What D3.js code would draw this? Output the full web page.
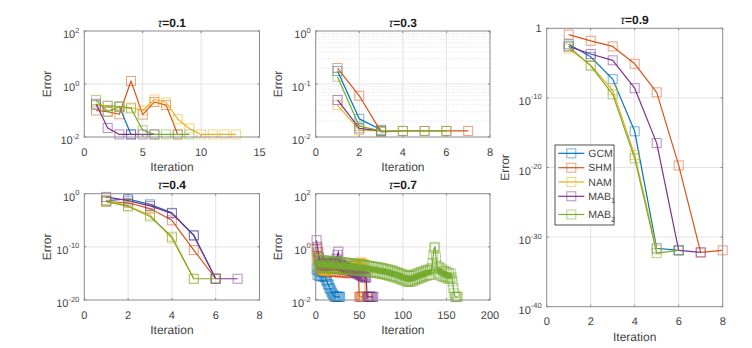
<!DOCTYPE html>
<html><head><meta charset="utf-8">
<script src="https://cdn.jsdelivr.net/npm/d3@7"></script>
<style>
body{margin:0;background:#fff}
svg{display:block}
text{font-family:"Liberation Sans",Arial,Helvetica,sans-serif;fill:#444;font-weight:normal;text-rendering:geometricPrecision}
</style>
</head><body>
<svg id="chart" width="752" height="348"></svg>
<script>
// ---------------- data ----------------
const seriesNames = ["GCM", "SHM", "NAM", "MAB1", "MAB2"];

// tau = 0.1 (error values)
const tau01_GCM  = [0.16, 0.15, 0.14, 0.0125];
const tau01_SHM  = [0.10, 0.09, 0.072, 1.3, 0.07, 0.21, 0.16, 0.0125];
const tau01_NAM  = [0.16, 0.15, 0.14, 0.13, 0.10, 0.26, 0.20, 0.047, 0.021, 0.0125, 0.0125, 0.0125, 0.0125];
const tau01_MAB1 = [0.18, 0.022, 0.0125, 0.0125, 0.0125, 0.0125];
const tau01_MAB2 = [0.25, 0.09, 0.14, 0.12, 0.018, 0.0125, 0.0125, 0.0125, 0.0125];

// tau = 0.3
const tau03_GCM  = [0.176, 0.022, 0.0137];
const tau03_SHM  = [0.20, 0.06, 0.0125, 0.013, 0.013, 0.013, 0.013];
const tau03_NAM  = [0.04, 0.0135, 0.013];
const tau03_MAB1 = [0.05, 0.0145, 0.013];
const tau03_MAB2 = [0.137, 0.016, 0.013, 0.013, 0.013, 0.013];

// tau = 0.4
const tau04_GCM  = [5e-2, 1e-1, 1e-2, 2.5e-4, 1.6e-8, 1e-16];
const tau04_SHM  = [3.2e-2, 2e-2, 1.6e-3, 1e-5, 2.5e-11, 1e-16];
const tau04_NAM  = [6.3e-2, 5e-3, 1e-4, 4e-9, 1e-16];
const tau04_MAB1 = [0.25, 5e-2, 5e-3, 2e-4, 1.26e-8, 1e-16, 1e-16];
const tau04_MAB2 = [3.2e-2, 4e-3, 5e-5, 8e-9, 1e-16, 1e-16];

// tau = 0.7 (log10 of error)
const tau07_GCM_log10 = [-0.85,-1.05,-0.9,-1.1,-0.95,-1.1,-0.95,-1.12,-1.0,-1.12,
 -1.15,-1.25,-1.3,-1.4,-1.45,-1.55,-1.6,-1.68,-1.75,-1.8,
 -1.85,-1.88,-1.88,-1.88,-1.88,-1.88,-1.88,-1.88];
const tau07_SHM_log10 = [-0.1,-0.35,-0.5,-0.65,-0.7,-0.85,-0.75,-0.9,-0.78,-0.92,
 -0.8,-0.9,-0.78,-0.92,-0.8,-0.95,-0.82,-0.93,-0.8,-0.95,
 -0.82,-0.95,-0.8,-0.93,-0.82,-0.95,-0.83,-0.97,-0.85,-0.95,
 -0.83,-0.97,-0.85,-0.98,-0.85,-0.97,-0.87,-1.0,-0.85,-0.98,
 -0.87,-0.98,-0.8,-0.7,-0.65,-0.72,-0.8,-0.88,-0.93,-1.88,
 -1.88,-1.88,-1.88,-1.88];
const tau07_NAM_log10 = [-0.05,-0.25,-0.45,-0.6,-0.7,-0.8,-0.85,-0.9,-0.85,-0.9,
 -0.88,-0.85,-0.9,-0.86,-0.82,-0.78,-0.8,-0.75,-0.78,-0.8,
 -0.76,-0.8,-0.78,-0.75,-0.8,-0.78,-0.76,-0.8,-0.78,-0.82,
 -0.8,-0.78,-0.82,-0.8,-0.78,-0.82,-0.8,-0.84,-0.82,-0.8,
 -0.84,-0.82,-0.8,-0.84,-0.82,-0.85,-0.8,-0.75,-0.7,-0.66,
 -0.6,-0.58,-0.62,-0.65,-0.66,-0.68,-1.88,-1.88,-1.88,-1.88];
const tau07_MAB1_log10 = [0.25,0.0,-0.2,-0.4,-0.55,-0.65,-0.6,-0.7,-0.62,-0.72,
 -0.6,-0.7,-0.62,-0.68,-0.6,-0.72,-0.62,-0.7,-0.6,-0.65,
 -0.6,-0.62,-0.55,-0.45,-0.3,-0.18,-0.7,-0.65,-0.72,-0.68,
 -0.75,-0.7,-0.78,-0.75,-0.8,-0.82,-0.85,-0.83,-0.88,-0.86,
 -0.9,-0.92,-0.9,-0.95,-0.93,-0.98,-1.0,-0.98,-1.02,-1.05,
 -1.05,-1.08,-1.1,-1.1,-1.12,-1.15,-1.15,-1.15,-1.88,-1.88,
 -1.88,-1.88,-1.88,-1.88,-1.88,-1.88];
const tau07_MAB2_log10 = [-0.45,-0.75,-0.5,-0.8,-0.5,-0.78,-0.52,-0.8,-0.5,-0.78,
 -0.52,-0.78,-0.55,-0.8,-0.52,-0.8,-0.55,-0.82,-0.55,-0.8,
 -0.55,-0.82,-0.57,-0.8,-0.55,-0.82,-0.58,-0.83,-0.57,-0.82,
 -0.58,-0.85,-0.6,-0.83,-0.6,-0.85,-0.62,-0.87,-0.6,-0.86,
 -0.62,-0.88,-0.63,-0.87,-0.65,-0.9,-0.65,-0.88,-0.66,-0.9,
 -0.66,-0.9,-0.68,-0.92,-0.68,-0.9,-0.7,-0.93,-0.7,-0.92,
 -0.72,-0.95,-0.72,-0.95,-0.74,-0.97,-0.74,-0.96,-0.76,-0.98,
 -0.76,-1.0,-0.78,-1.0,-0.8,-1.02,-0.8,-1.03,-0.82,-1.04,
 -0.84,-1.06,-0.85,-1.08,-0.87,-1.1,-0.88,-1.12,-0.9,-1.12,
 -0.93,-1.15,-0.95,-1.17,-0.98,-1.2,-1.0,-1.22,-1.02,-1.25,
 -1.05,-1.27,-1.07,-1.3,-1.08,-1.32,-1.1,-1.32,-1.1,-1.3,
 -1.08,-1.28,-1.05,-1.25,-1.02,-1.22,-1.0,-1.2,-0.97,-1.17,
 -0.95,-1.15,-0.93,-1.12,-0.9,-1.1,-0.88,-1.08,-0.86,-1.06,
 -0.85,-1.05,-0.8,-0.6,-0.3,-0.05,0.0,-0.4,-0.7,-1.0,
 -0.75,-1.05,-0.8,-1.1,-0.85,-1.12,-0.9,-1.15,-0.92,-1.15,
 -0.95,-1.2,-1.0,-1.2,-1.0,-1.15,-1.3,-1.55,-1.75,-1.88,
 -1.88,-1.88,-1.88];

// tau = 0.9
const tau09_GCM  = [5e-3, 8e-5, 5e-8, 1.6e-15, 2.5e-32, 1.26e-32];
const tau09_SHM  = [0.126, 1.6e-2, 2.5e-3, 8e-6, 6.3e-10, 2e-20, 6.3e-33, 1.26e-32];
const tau09_NAM  = [1.26e-3, 5e-6, 1.26e-9, 6.3e-19, 1.6e-32];
const tau09_MAB1 = [2.5e-3, 2e-4, 2.5e-5, 2.5e-9, 3.2e-17, 1.26e-32, 6.3e-33];
const tau09_MAB2 = [2.5e-3, 4e-6, 3.2e-10, 2e-19, 5e-33, 1.26e-32];

// tick values
const tau01_xTicks = [0, 5, 10, 15], tau01_yExp = [-2, 0, 2];
const tau03_xTicks = [0, 2, 4, 6, 8], tau03_yExp = [-2, -1, 0];
const tau04_xTicks = [0, 2, 4, 6, 8], tau04_yExp = [-20, -10, 0];
const tau07_xTicks = [0, 50, 100, 150, 200], tau07_yExp = [-2, 0, 2];
const tau09_xTicks = [0, 2, 4, 6, 8], tau09_yExp = [-40, -30, -20, -10, 0];

// ---------------- styles / layout ----------------
const colors = ["#0072BD", "#D95319", "#EDB120", "#7E2F8E", "#77AC30"];
const fromLog = a => a.map(v => Math.pow(10, v));

const panels = [
  {tau:"0.1", box:[84.3,31,259.5,137], xTicks:tau01_xTicks, yExp:tau01_yExp,
   series:[tau01_GCM,tau01_SHM,tau01_NAM,tau01_MAB1,tau01_MAB2], minor:false, labelOff:38},
  {tau:"0.3", box:[315.7,31,490,137], xTicks:tau03_xTicks, yExp:tau03_yExp,
   series:[tau03_GCM,tau03_SHM,tau03_NAM,tau03_MAB1,tau03_MAB2], minor:true, labelOff:38},
  {tau:"0.4", box:[84.3,193.7,259.5,300], xTicks:tau04_xTicks, yExp:tau04_yExp,
   series:[tau04_GCM,tau04_SHM,tau04_NAM,tau04_MAB1,tau04_MAB2], minor:false, labelOff:38},
  {tau:"0.7", box:[315.7,193.7,490,300], xTicks:tau07_xTicks, yExp:tau07_yExp,
   series:[tau07_GCM_log10,tau07_SHM_log10,tau07_NAM_log10,tau07_MAB1_log10,tau07_MAB2_log10].map(fromLog), minor:false, labelOff:38},
  {tau:"0.9", box:[546.7,28.3,722.7,306.7], xTicks:tau09_xTicks, yExp:tau09_yExp,
   series:[tau09_GCM,tau09_SHM,tau09_NAM,tau09_MAB1,tau09_MAB2], minor:false, labelOff:42, oneAtZero:true, legend:true}
];

const svg = d3.select("#chart");
const MS = 9; // marker size

panels.forEach(p => {
  const [x0, y0, x1, y1] = p.box;
  const xs = d3.scaleLinear().domain(d3.extent(p.xTicks)).range([x0, x1]);
  const ys = d3.scaleLog().domain([Math.pow(10, d3.min(p.yExp)), Math.pow(10, d3.max(p.yExp))]).range([y1, y0]);
  const g = svg.append("g");

  if (p.minor) {
    const lo = d3.min(p.yExp), hi = d3.max(p.yExp);
    const minors = [];
    for (let e = lo; e < hi; e++) for (let k = 2; k <= 9; k++) minors.push(k * Math.pow(10, e));
    g.selectAll(".mg").data(minors).join("line")
      .attr("x1", x0).attr("x2", x1).attr("y1", d => ys(d)).attr("y2", d => ys(d))
      .attr("stroke", "#d8d8d8").attr("stroke-width", 0.8).attr("stroke-dasharray", "1,1.5");
  }
  g.selectAll(".gx").data(p.xTicks.slice(1, -1)).join("line")
    .attr("x1", d => xs(d)).attr("x2", d => xs(d)).attr("y1", y0).attr("y2", y1)
    .attr("stroke", "#e3e3e3").attr("stroke-width", 1);
  g.selectAll(".gy").data(p.yExp.filter(e => e !== d3.min(p.yExp) && e !== d3.max(p.yExp))).join("line")
    .attr("x1", x0).attr("x2", x1).attr("y1", d => ys(Math.pow(10, d))).attr("y2", d => ys(Math.pow(10, d)))
    .attr("stroke", "#e3e3e3").attr("stroke-width", 1);

  p.xTicks.forEach(t => {
    g.append("line").attr("x1", xs(t)).attr("x2", xs(t)).attr("y1", y1).attr("y2", y1 - 2).attr("stroke", "#888");
    g.append("line").attr("x1", xs(t)).attr("x2", xs(t)).attr("y1", y0).attr("y2", y0 + 2).attr("stroke", "#888");
  });
  p.yExp.forEach(e => {
    const y = ys(Math.pow(10, e));
    g.append("line").attr("x1", x0).attr("x2", x0 + 2).attr("y1", y).attr("y2", y).attr("stroke", "#888");
    g.append("line").attr("x1", x1).attr("x2", x1 - 2).attr("y1", y).attr("y2", y).attr("stroke", "#888");
  });

  const line = d3.line().x((d, i) => xs(i + 1)).y(d => ys(d));
  p.series.forEach((arr, si) => {
    const sg = g.append("g");
    sg.append("path").datum(arr).attr("d", line).attr("fill", "none")
      .attr("stroke", colors[si]).attr("stroke-width", 1.2).attr("stroke-linejoin", "round");
    sg.selectAll("rect").data(arr).join("rect")
      .attr("x", (d, i) => xs(i + 1) - MS / 2).attr("y", d => ys(d) - MS / 2)
      .attr("width", MS).attr("height", MS).attr("fill", "none")
      .attr("stroke", colors[si]).attr("stroke-opacity", 0.55).attr("stroke-width", 1);
  });

  g.append("rect").attr("x", x0).attr("y", y0).attr("width", x1 - x0).attr("height", y1 - y0)
    .attr("fill", "none").attr("stroke", "#8a8a8a").attr("stroke-width", 1);

  g.selectAll(".xl").data(p.xTicks).join("text")
    .attr("x", d => xs(d)).attr("y", y1 + 18.5).attr("text-anchor", "middle")
    .attr("font-size", 11).text(d => d);
  p.yExp.forEach(e => {
    const y = ys(Math.pow(10, e));
    if (p.oneAtZero && e === 0) {
      g.append("text").attr("x", x0 - 5).attr("y", y + 4).attr("text-anchor", "end")
        .attr("font-size", 11).text("1");
    } else {
      const t = g.append("text").attr("x", x0 - 5).attr("y", y + 7).attr("text-anchor", "end").attr("font-size", 11);
      t.append("tspan").text("10");
      t.append("tspan").attr("dy", -5.5).attr("font-size", 7.5).text(e);
    }
  });
  g.append("text").attr("x", (x0 + x1) / 2).attr("y", y1 + 34).attr("text-anchor", "middle")
    .attr("font-size", 12).text("Iteration");
  g.append("text").attr("transform", `translate(${x0 - p.labelOff + 4.3},${(y0 + y1) / 2}) rotate(-90)`)
    .attr("text-anchor", "middle").attr("font-size", 12).text("Error");
  const tt = g.append("text").attr("x", (x0 + x1) / 2).attr("y", y0 - 4.5).attr("text-anchor", "middle")
    .attr("font-size", 12).style("font-weight", "bold").style("fill", "#1a1a1a");
  tt.append("tspan").style("font-style", "italic").style("font-weight", "normal").text("τ");
  tt.append("tspan").text("=" + p.tau);

  if (p.legend) {
    const lg = svg.append("g");
    lg.append("rect").attr("x", 555).attr("y", 145).attr("width", 59).attr("height", 80)
      .attr("fill", "#fff").attr("stroke", "#262626").attr("stroke-width", 0.8);
    const rowsY = [153.3, 167.7, 182, 196.3, 214.5];
    seriesNames.forEach((name, i) => {
      const yy = rowsY[i];
      lg.append("line").attr("x1", 558.3).attr("x2", 584.3).attr("y1", yy).attr("y2", yy)
        .attr("stroke", colors[i]).attr("stroke-width", 1.2);
      lg.append("rect").attr("x", 571.3 - MS / 2).attr("y", yy - MS / 2).attr("width", MS).attr("height", MS)
        .attr("fill", "none").attr("stroke", colors[i]).attr("stroke-opacity", 0.55);
      const t = lg.append("text").attr("x", 588.3).attr("y", yy + 3.6).attr("font-size", 10.5);
      if (name.startsWith("MAB")) {
        t.append("tspan").text("MAB");
        t.append("tspan").attr("dy", 3.5).attr("font-size", 7.5).text(name.slice(3));
      } else t.text(name);
    });
  }
});
</script>
</body></html>
